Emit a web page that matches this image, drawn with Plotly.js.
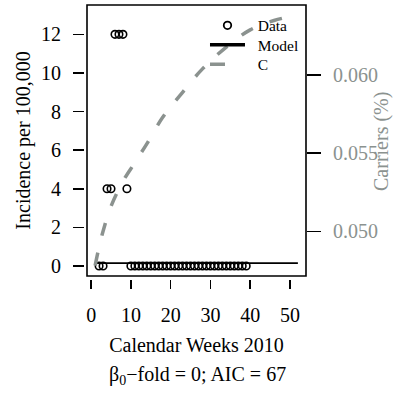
<!DOCTYPE html>
<html>
<head>
<meta charset="utf-8">
<script src="https://cdn.plot.ly/plotly-3.0.1.min.js"></script>
<style>html,body{margin:0;padding:0;background:#fff;}#chart{width:394px;height:394px;}</style>
</head>
<body>
<div id="chart"></div>
<script>
// Observed incidence per 100,000 by calendar week
const dataWeeks = [2, 3, 4, 5, 6, 7, 8, 9,
  10, 11, 12, 13, 14, 15, 16, 17, 18, 19, 20, 21, 22, 23, 24, 25, 26, 27, 28, 29,
  30, 31, 32, 33, 34, 35, 36, 37, 38, 39];
const dataIncidence = [0, 0, 4, 4, 12, 12, 12, 4,
  0, 0, 0, 0, 0, 0, 0, 0, 0, 0, 0, 0, 0, 0, 0, 0, 0, 0, 0, 0,
  0, 0, 0, 0, 0, 0, 0, 0, 0, 0];
// Model fit
const modelWeeks = [1, 52];
const modelIncidence = [0.15, 0.15];
// Carriers (%) curve, read at selected weeks
const carrierWeeks = [1, 2, 3, 5, 8, 11, 14, 18, 23, 28, 34, 40, 46, 52];
const carrierPct = [0.0478, 0.0490, 0.0500, 0.0516, 0.0532, 0.0544, 0.0556, 0.0573,
  0.0589, 0.0604, 0.0618, 0.0629, 0.0635, 0.06385];
const xTicks = [0, 10, 20, 30, 40, 50];
const yTicks = [0, 2, 4, 6, 8, 10, 12];
const y2Ticks = [0.050, 0.055, 0.060];
const legendNames = ["Data", "Model", "C"];

const GRAY = "#8b928f";
const FONT = "Liberation Serif, Times New Roman, serif";
const PAD = "\u00a0\u00a0";

const traces = [
  {x: dataWeeks, y: dataIncidence, type: "scatter", mode: "markers", showlegend: false,
   marker: {symbol: "circle-open", size: 7.5, color: "#000", line: {width: 1.6, color: "#000"}}},
  {x: modelWeeks, y: modelIncidence, type: "scatter", mode: "lines", showlegend: false,
   line: {color: "#000", width: 1.8}},
  {x: carrierWeeks, y: carrierPct, type: "scatter", mode: "lines", yaxis: "y2", showlegend: false,
   line: {color: GRAY, width: 3.5, dash: "13px,18px", shape: "spline"}},
  // legend entries
  {x: [null], y: [null], type: "scatter", mode: "markers", name: PAD + legendNames[0], legend: "legend",
   marker: {symbol: "circle-open", size: 7.5, color: "#000", line: {width: 1.8, color: "#000"}}},
  {x: [null], y: [null], type: "scatter", mode: "lines", name: PAD + legendNames[1], legend: "legend2",
   line: {color: "#000", width: 3.5}},
  {x: [null], y: [null], type: "scatter", mode: "lines", name: PAD + legendNames[2], yaxis: "y2", legend: "legend3",
   line: {color: GRAY, width: 3.5, dash: "15px,40px"}}
];

function legendAt(rowCenterPx) {
  const topPx = rowCenterPx - 16.3;
  return {x: 0.545, y: (279 - topPx) / 274, xanchor: "left", yanchor: "top",
    bgcolor: "rgba(0,0,0,0)", font: {family: FONT, size: 15.5, color: "#000"},
    itemwidth: 35, tracegroupgap: 0};
}

const layout = {
  width: 394, height: 394,
  margin: {l: 84, r: 88, t: 5, b: 115},
  paper_bgcolor: "#fff", plot_bgcolor: "#fff",
  font: {family: FONT, size: 20, color: "#000"},
  showlegend: true,
  legend: legendAt(25),
  legend2: legendAt(44.5),
  legend3: legendAt(64),
  xaxis: {domain: [3/222, 1], range: [-1.04, 54.04], anchor: "free", position: 0,
    tickvals: xTicks, ticktext: xTicks.map(String), ticks: "outside", ticklen: 9, tickwidth: 1.5,
    tickcolor: "#000", showline: false, showgrid: false, zeroline: false,
    tickfont: {family: FONT, size: 20}, ticklabelstandoff: 9,
    title: {text: "Calendar Weeks 2010", font: {family: FONT, size: 20}, standoff: 12}},
  yaxis: {domain: [3/274, 1], range: [-0.52, 13.52], anchor: "free", position: 0,
    tickvals: yTicks, ticktext: yTicks.map(String), ticks: "outside", ticklen: 11, tickwidth: 1.5,
    tickcolor: "#000", showline: false, showgrid: false, zeroline: false,
    tickfont: {family: FONT, size: 20}, ticklabelstandoff: 8,
    title: {text: "Incidence per 100,000", font: {family: FONT, size: 20}, standoff: 4}},
  yaxis2: {overlaying: "y", side: "right", anchor: "free", position: 1,
    range: [0.047138, 0.064492], tickvals: y2Ticks, ticktext: y2Ticks.map(v => v.toFixed(3)),
    ticks: "outside", ticklen: 14, tickwidth: 1.5, tickcolor: "#000",
    showline: false, showgrid: false, zeroline: false,
    tickfont: {family: FONT, size: 20, color: GRAY}, ticklabelstandoff: 8},
  shapes: [{type: "rect", xref: "x domain", yref: "y domain", x0: 0, x1: 1, y0: 0, y1: 1,
    line: {color: "#000", width: 1.6}, fillcolor: "rgba(0,0,0,0)", layer: "above"}],
  annotations: [
    {text: "β<sub>0</sub>−fold = 0; AIC = 67", xref: "paper", yref: "paper",
     x: (197 - 84) / 222, y: (279 - 375) / 274, xanchor: "center", yanchor: "middle",
     showarrow: false, font: {family: FONT, size: 20, color: "#000"}},
    {text: "Carriers (%)", xref: "paper", yref: "paper", textangle: -90,
     x: (381 - 84) / 222, y: (279 - 142) / 274, xanchor: "center", yanchor: "middle",
     showarrow: false, font: {family: FONT, size: 20, color: GRAY}}
  ]
};

Plotly.newPlot("chart", traces, layout, {staticPlot: true, displayModeBar: false});
</script>
</body>
</html>
